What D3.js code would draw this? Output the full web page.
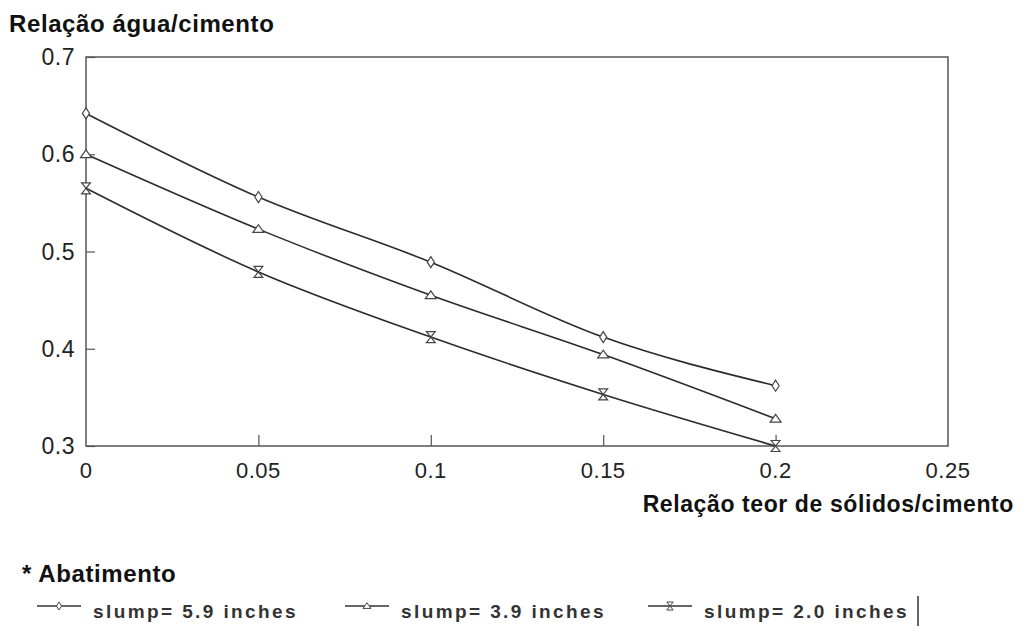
<!DOCTYPE html>
<html>
<head>
<meta charset="utf-8">
<script src="https://cdn.jsdelivr.net/npm/d3@7"></script>
<style>
  body { margin: 0; background: #fff; }
  text { font-family: "Liberation Sans", Arial, sans-serif; }
</style>
</head>
<body>
<div id="wrapper"></div>
<script>
// data
const xValues = [0, 0.05, 0.1, 0.15, 0.2];
const slump59 = [0.642, 0.556, 0.489, 0.412, 0.362];
const slump39 = [0.600, 0.523, 0.455, 0.394, 0.328];
const slump20 = [0.565, 0.479, 0.412, 0.353, 0.300];
const seriesNames = ["slump= 5.9 inches", "slump= 3.9 inches", "slump= 2.0 inches"];
const markerKinds = ["diamond", "triangle", "hourglass"];
const xTicks = [0, 0.05, 0.1, 0.15, 0.2, 0.25];
const yTicks = [0.3, 0.4, 0.5, 0.6, 0.7];

function drawChart() {
  const width = 1024;
  const height = 633;
  const plot = { left: 86, right: 948, top: 57, bottom: 446 };

  const svg = d3.select("#wrapper")
    .append("svg")
    .attr("width", width)
    .attr("height", height);

  const xScale = d3.scaleLinear().domain([0, 0.25]).range([plot.left, plot.right]);
  const yScale = d3.scaleLinear().domain([0.3, 0.7]).range([plot.bottom, plot.top]);

  const ink = "#2b2b2b";

  // frame
  svg.append("rect")
    .attr("x", plot.left)
    .attr("y", plot.top)
    .attr("width", plot.right - plot.left)
    .attr("height", plot.bottom - plot.top)
    .attr("fill", "none")
    .attr("stroke", "#555")
    .attr("stroke-width", 1.5);

  // axes (ticks pointing inward)
  const yAxis = svg.append("g")
    .attr("transform", `translate(${plot.left},0)`)
    .call(d3.axisRight(yScale).tickValues(yTicks).tickSize(9).tickFormat(""));
  yAxis.select(".domain").remove();
  yAxis.selectAll("line").attr("stroke", "#555").attr("stroke-width", 1.2);

  const xAxis = svg.append("g")
    .attr("transform", `translate(0,${plot.bottom})`)
    .call(d3.axisTop(xScale).tickValues(xTicks.slice(1, 5)).tickSize(11).tickFormat(""));
  xAxis.select(".domain").remove();
  xAxis.selectAll("line").attr("stroke", "#555").attr("stroke-width", 1.2);

  svg.append("g")
    .selectAll("text")
    .data(yTicks)
    .join("text")
    .attr("x", 75)
    .attr("y", (d) => yScale(d) + 8)
    .attr("text-anchor", "end")
    .attr("fill", "#222")
    .style("font-size", "23px")
    .style("letter-spacing", "0.5px")
    .text((d) => d3.format(".1f")(d));

  svg.append("g")
    .selectAll("text")
    .data(xTicks)
    .join("text")
    .attr("x", (d) => xScale(d))
    .attr("y", 478)
    .attr("text-anchor", "middle")
    .attr("fill", "#222")
    .style("font-size", "22px")
    .style("letter-spacing", "0.5px")
    .text((d) => (d === 0 ? "0" : String(d)));

  // axis titles
  svg.append("text")
    .attr("x", 9)
    .attr("y", 32)
    .style("font-size", "24px")
    .style("font-weight", "bold")
    .style("letter-spacing", "0.6px")
    .attr("fill", "#111")
    .text("Relação água/cimento");

  svg.append("text")
    .attr("x", 1014)
    .attr("y", 512)
    .attr("text-anchor", "end")
    .style("font-size", "23px")
    .style("font-weight", "bold")
    .style("letter-spacing", "0.6px")
    .attr("fill", "#111")
    .text("Relação teor de sólidos/cimento");

  // markers
  function markerPath(kind, s) {
    if (kind === "diamond") {
      return `M0,${-s}L${s * 0.65},0L0,${s}L${-s * 0.65},0Z`;
    }
    if (kind === "triangle") {
      return `M0,${-s * 0.8}L${s},${s * 0.6}L${-s},${s * 0.6}Z`;
    }
    return `M${-s * 0.8},${-s}L${s * 0.8},${-s}L0,0L${s * 0.8},${s}L${-s * 0.8},${s}L0,0Z`;
  }

  const seriesValues = [slump59, slump39, slump20];
  const series = seriesValues.map((vals, i) => ({
    name: seriesNames[i],
    kind: markerKinds[i],
    points: vals.map((v, j) => ({ x: xValues[j], y: v })),
  }));

  const lineGenerator = d3.line()
    .x((d) => xScale(d.x))
    .y((d) => yScale(d.y))
    .curve(d3.curveMonotoneX);

  const seriesGroups = svg.append("g")
    .selectAll("g")
    .data(series)
    .join("g");

  seriesGroups.append("path")
    .attr("d", (d) => lineGenerator(d.points))
    .attr("fill", "none")
    .attr("stroke", ink)
    .attr("stroke-width", 1.6);

  seriesGroups.each(function (s) {
    d3.select(this)
      .selectAll(".marker")
      .data(s.points)
      .join("path")
      .attr("class", "marker")
      .attr("transform", (d) => `translate(${xScale(d.x)},${yScale(d.y)})`)
      .attr("d", markerPath(s.kind, 5.5))
      .attr("fill", "#fff")
      .attr("stroke", "#444")
      .attr("stroke-width", 1.2);
  });

  // legend
  svg.append("text")
    .attr("x", 22)
    .attr("y", 582)
    .style("font-size", "24px")
    .style("font-weight", "bold")
    .style("letter-spacing", "0.6px")
    .attr("fill", "#111")
    .text("* Abatimento");

  const legendX = [37, 345, 648];
  const legendY = 606;
  const legendItems = svg.append("g")
    .selectAll("g")
    .data(series)
    .join("g")
    .attr("transform", (d, i) => `translate(${legendX[i]},${legendY})`);

  legendItems.append("line")
    .attr("x1", 0)
    .attr("x2", 44)
    .attr("stroke", "#333")
    .attr("stroke-width", 1.5);

  legendItems.append("path")
    .attr("transform", "translate(22,0)")
    .attr("d", (d) => markerPath(d.kind, 4))
    .attr("fill", "#fff")
    .attr("stroke", "#444")
    .attr("stroke-width", 1);

  legendItems.append("text")
    .attr("x", 56)
    .attr("y", 12)
    .style("font-size", "19px")
    .style("font-weight", "bold")
    .style("letter-spacing", "2.4px")
    .attr("fill", "#333")
    .text((d) => d.name);

  svg.append("line")
    .attr("x1", 918)
    .attr("x2", 918)
    .attr("y1", 596)
    .attr("y2", 626)
    .attr("stroke", "#333")
    .attr("stroke-width", 1.5);
}
drawChart();
</script>
</body>
</html>
